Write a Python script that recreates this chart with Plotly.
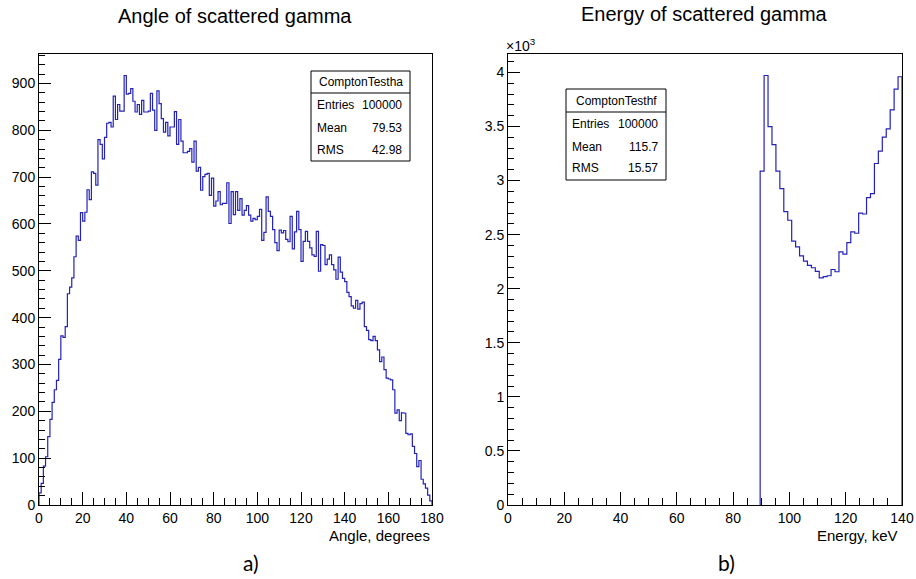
import numpy as np
import plotly.graph_objects as go

# ---------------- data ----------------
angle_title = "Angle of scattered gamma"
energy_title = "Energy of scattered gamma"
angle_xlabel = "Angle, degrees"
energy_xlabel = "Energy, keV"

angle_min, angle_max, angle_nbins = 0, 180, 180
angle_counts = [
    26, 46, 83, 103, 146, 183, 219, 246, 266, 311,
    361, 358, 381, 451, 465, 485, 530, 574, 565, 624,
    606, 625, 673, 652, 711, 708, 683, 780, 770, 739,
    785, 815, 817, 807, 873, 823, 855, 841, 841, 917,
    877, 879, 889, 862, 839, 855, 834, 864, 839, 839,
    841, 879, 843, 800, 884, 857, 825, 796, 817, 788,
    807, 807, 840, 770, 823, 777, 752, 752, 755, 761,
    732, 777, 713, 721, 672, 701, 706, 708, 661, 698,
    638, 649, 669, 641, 644, 644, 688, 601, 669, 620,
    669, 629, 654, 619, 629, 639, 619, 606, 612, 609,
    616, 631, 565, 582, 658, 627, 616, 588, 560, 543,
    587, 581, 586, 567, 562, 616, 547, 583, 627, 588,
    520, 563, 584, 563, 549, 534, 531, 584, 499, 556,
    554, 513, 525, 534, 513, 502, 482, 529, 497, 484,
    477, 454, 445, 425, 420, 437, 418, 430, 433, 381,
    373, 353, 351, 360, 351, 331, 306, 316, 289, 271,
    269, 267, 246, 196, 203, 180, 197, 196, 153, 150,
    152, 125, 110, 82, 95, 55, 45, 36, 21, 9,
]

energy_min, energy_max, energy_nbins = 0, 140, 100
energy_first_filled_bin = 64
energy_filled_counts = [
    3088, 3972, 3499, 3333, 3088, 2925, 2713, 2633, 2440, 2387,
    2304, 2255, 2215, 2194, 2160, 2101, 2111, 2120, 2178, 2157,
    2341, 2320, 2427, 2525, 2513, 2700, 2691, 2842, 2879, 3158,
    3272, 3401, 3478, 3653, 3846, 3960,
]
energy_counts = [0] * energy_first_filled_bin + energy_filled_counts

angle_stats_name = "ComptonTestha"
energy_stats_name = "ComptonTesthf"
stat_labels = ["Entries", "Mean", "RMS"]
angle_stat_values = ["100000", "79.53", "42.98"]
energy_stat_values = ["100000", "115.7", "15.57"]
panel_labels = ["a)", "b)"]

# ---------------- layout helpers ----------------
W, H = 916, 579
ML, MR, MT, MB = 39, 14, 54, 74
PW, PH = W - ML - MR, H - MT - MB


def px(xp):
    return (xp - ML) / PW


def py(yp):
    return (H - MB - yp) / PH


def step_xy(edges, counts, scale=1.0):
    # outline of a histogram; leading empty bins lie on the axis and are skipped
    start = next(i for i, c in enumerate(counts) if c > 0)
    xs, ys = [edges[start]], [0]
    for i in range(start, len(counts)):
        c = counts[i]
        xs += [edges[i], edges[i + 1]]
        ys += [c * scale, c * scale]
    xs.append(edges[-1])
    ys.append(0)
    return xs, ys


angle_edges = np.linspace(angle_min, angle_max, angle_nbins + 1)
energy_edges = np.linspace(energy_min, energy_max, energy_nbins + 1)

LINE = "#2323b8"
FONT = "Liberation Sans, Arial, Helvetica, sans-serif"

fig = go.Figure()
ax, ay = step_xy(angle_edges, angle_counts)
fig.add_trace(go.Scatter(x=ax, y=ay, mode="lines", line=dict(color=LINE, width=1.2),
                         xaxis="x", yaxis="y", showlegend=False, hoverinfo="skip"))
ex, ey = step_xy(energy_edges, energy_counts, 1 / 1000)
fig.add_trace(go.Scatter(x=ex, y=ey, mode="lines", line=dict(color=LINE, width=1.2),
                         xaxis="x2", yaxis="y2", showlegend=False, hoverinfo="skip"))

common = dict(showgrid=False, zeroline=False, showline=True, mirror=True,
              linecolor="black", linewidth=1, ticks="inside", tickcolor="black",
              tickwidth=1, automargin=False, layer="above traces",
              tickfont=dict(family=FONT, size=14, color="black"))

ymax_angle = max(angle_counts) * 1.05
ymax_energy = max(energy_counts) * 1.05 / 1000

fig.update_layout(
    width=W, height=H, autosize=False,
    margin=dict(l=ML, r=MR, t=MT, b=MB, autoexpand=False),
    paper_bgcolor="white", plot_bgcolor="white",
    xaxis=dict(domain=[0, px(432)], range=[angle_min, angle_max], dtick=20, tick0=0,
               ticklen=13, minor=dict(dtick=5, ticklen=7, ticks="inside", tickcolor="black"),
               anchor="y", **common),
    yaxis=dict(domain=[0, 1], range=[0, ymax_angle], dtick=100, tick0=0,
               ticklen=12, minor=dict(dtick=20, ticklen=6, ticks="inside", tickcolor="black"),
               anchor="x", **common),
    xaxis2=dict(domain=[px(508), 1], range=[energy_min, energy_max], dtick=20, tick0=0,
                ticklen=13, minor=dict(dtick=5, ticklen=7, ticks="inside", tickcolor="black"),
                anchor="y2", **common),
    yaxis2=dict(domain=[0, 1], range=[0, ymax_energy], dtick=0.5, tick0=0,
                ticklen=12, minor=dict(dtick=0.1, ticklen=6, ticks="inside", tickcolor="black"),
                anchor="x2", **common),
)

ann = []
# titles
ann.append(dict(text=angle_title, x=px(235), y=py(16), xref="paper", yref="paper",
                showarrow=False, xanchor="center", yanchor="middle",
                font=dict(family=FONT, size=20, color="black")))
ann.append(dict(text=energy_title, x=px(704), y=py(14), xref="paper", yref="paper",
                showarrow=False, xanchor="center", yanchor="middle",
                font=dict(family=FONT, size=20, color="black")))
# axis titles
ann.append(dict(text=angle_xlabel, x=px(432), y=py(535), xref="paper", yref="paper",
                showarrow=False, xanchor="right", yanchor="middle",
                font=dict(family=FONT, size=15, color="black")))
ann.append(dict(text=energy_xlabel, x=px(900), y=py(535), xref="paper", yref="paper",
                showarrow=False, xanchor="right", yanchor="middle",
                font=dict(family=FONT, size=15, color="black")))
# x10^3
ann.append(dict(text="\u00d710<sup>3</sup>", x=px(504), y=py(45), xref="paper", yref="paper",
                showarrow=False, xanchor="left", yanchor="middle",
                font=dict(family=FONT, size=14, color="black")))
# panel labels
ann.append(dict(text=panel_labels[0], x=px(251), y=py(562), xref="paper", yref="paper",
                showarrow=False, xanchor="center", yanchor="middle",
                font=dict(family="Lato, sans-serif", size=21, color="black")))
ann.append(dict(text=panel_labels[1], x=px(726), y=py(562), xref="paper", yref="paper",
                showarrow=False, xanchor="center", yanchor="middle",
                font=dict(family="Lato, sans-serif", size=21, color="black")))

shapes = []


def stat_box(x0, x1, y0, y1, ysep, name, rows_y, values):
    shapes.append(dict(type="rect", xref="paper", yref="paper", x0=px(x0), x1=px(x1),
                       y0=py(y1), y1=py(y0), line=dict(color="black", width=1),
                       fillcolor="white", layer="above"))
    shapes.append(dict(type="line", xref="paper", yref="paper", x0=px(x0), x1=px(x1),
                       y0=py(ysep), y1=py(ysep), line=dict(color="black", width=1),
                       layer="above"))
    ann.append(dict(text=name, x=px((x0 + x1) / 2), y=py((y0 + ysep) / 2), xref="paper",
                    yref="paper", showarrow=False, xanchor="center", yanchor="middle",
                    font=dict(family=FONT, size=12, color="black")))
    for lab, val, yy in zip(stat_labels, values, rows_y):
        ann.append(dict(text=lab, x=px(x0 + 4), y=py(yy), xref="paper", yref="paper",
                        showarrow=False, xanchor="left", yanchor="middle",
                        font=dict(family=FONT, size=12, color="black")))
        ann.append(dict(text=val, x=px(x1 - 6), y=py(yy), xref="paper", yref="paper",
                        showarrow=False, xanchor="right", yanchor="middle",
                        font=dict(family=FONT, size=12, color="black")))


stat_box(311, 410, 71, 161, 93, angle_stats_name, [105, 128, 150], angle_stat_values)
stat_box(566, 666, 89, 180, 112, energy_stats_name, [124, 147, 168], energy_stat_values)

fig.update_layout(annotations=ann, shapes=shapes)
fig.write_html(
    "out.html",
    config={"displayModeBar": False, "staticPlot": True},
    post_script="document.body.style.margin='0px';document.body.style.padding='0px';"
                "document.body.style.overflow='hidden';",
)
